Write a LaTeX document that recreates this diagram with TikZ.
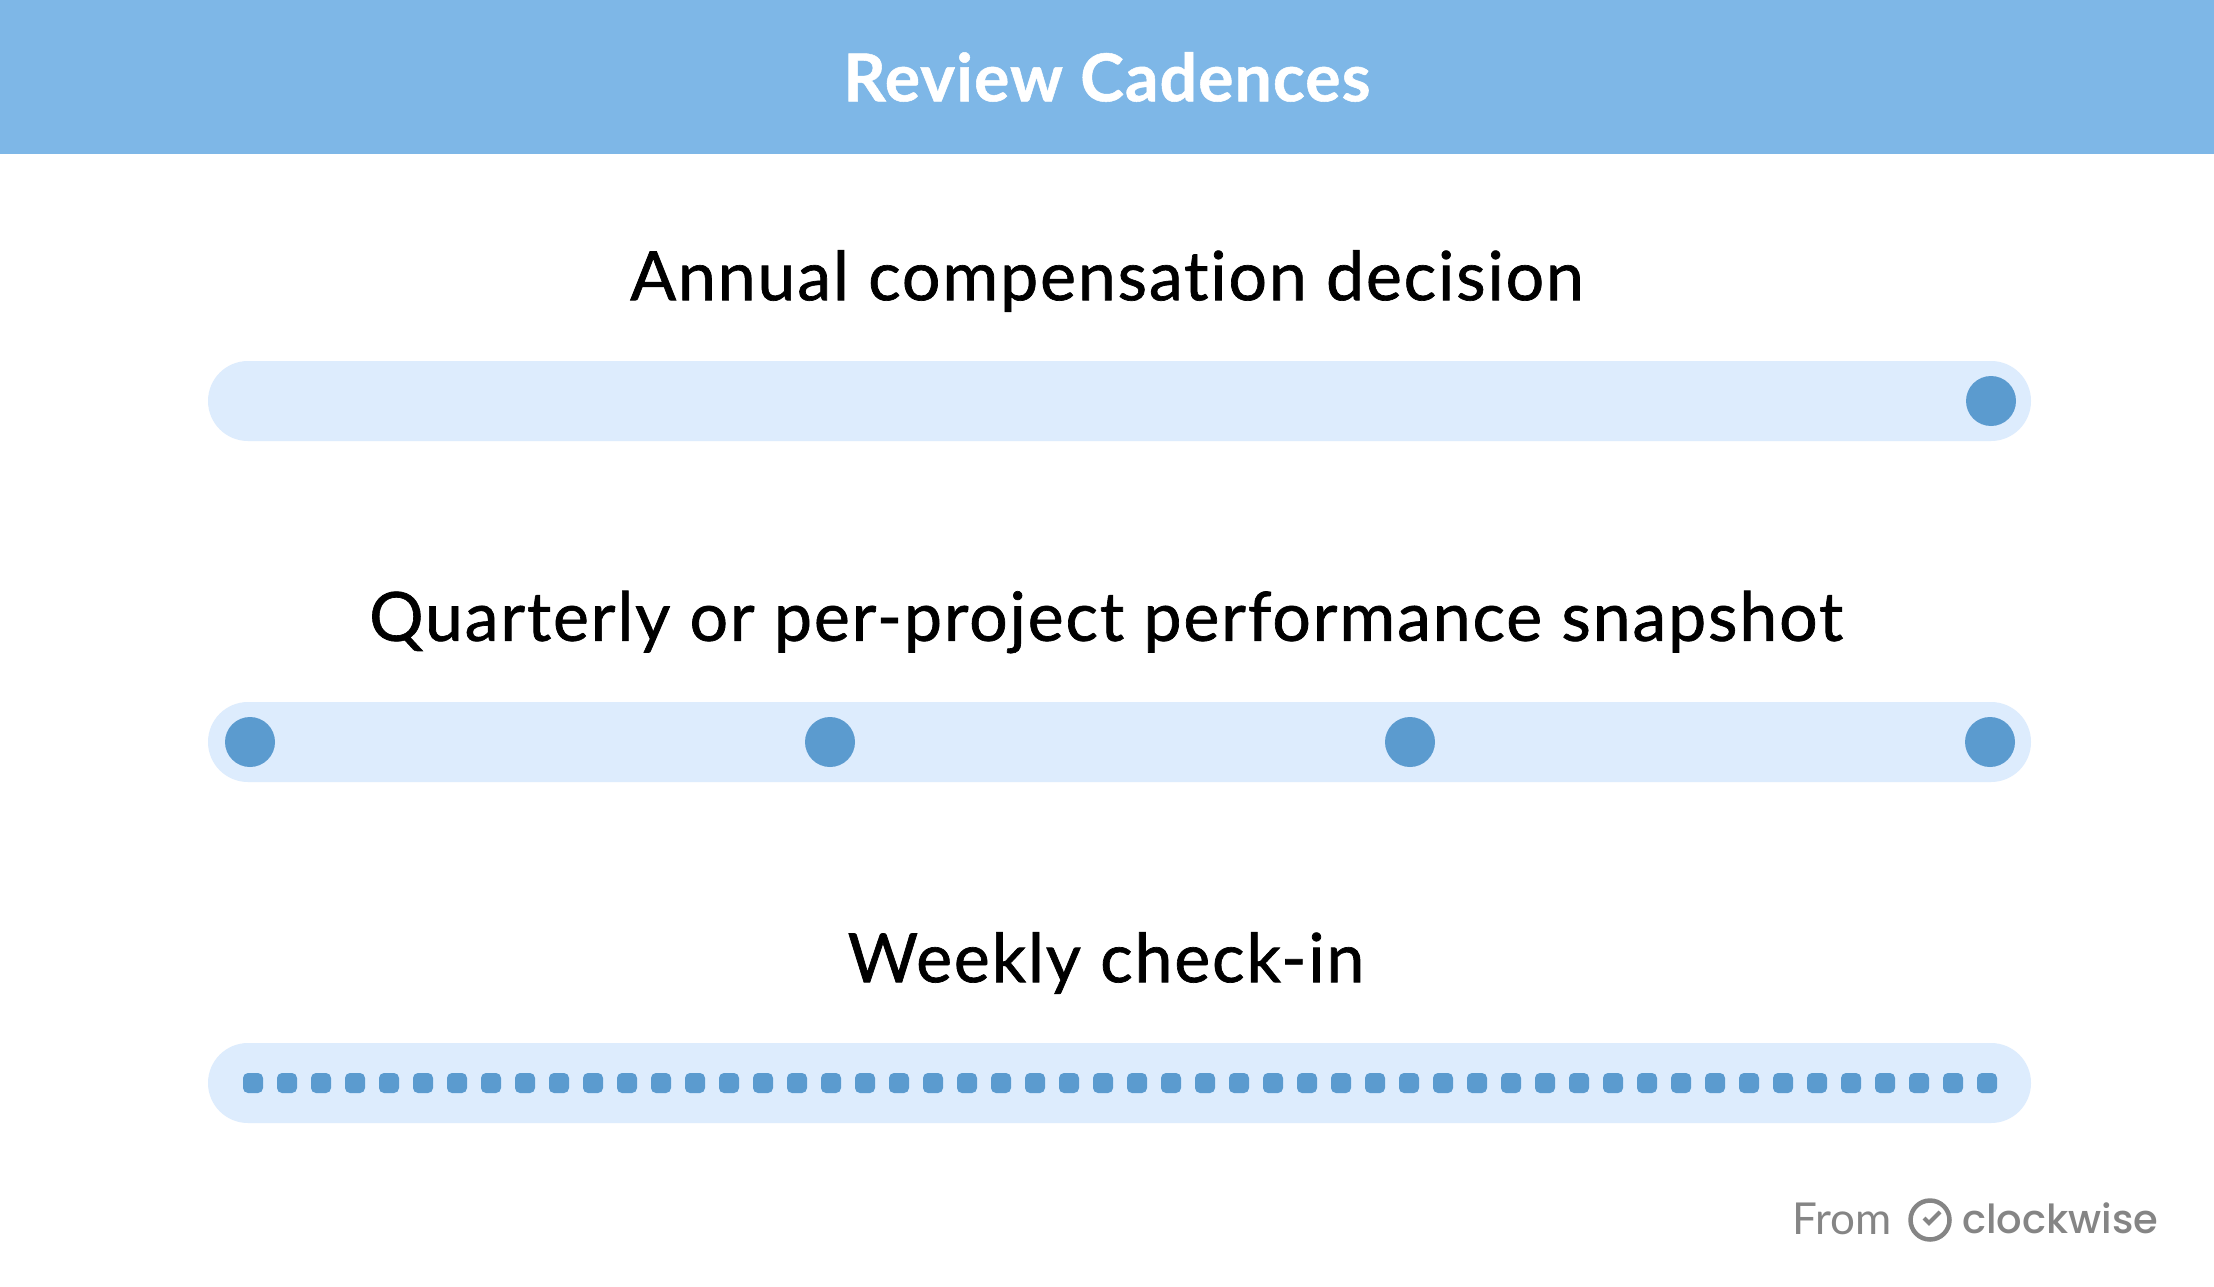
\documentclass[tikz,border=0pt]{standalone}
\usepackage{fontspec}
\setmainfont{Lato}
\newfontfamily\logofont{Poppins Medium}
\newfontfamily\headfont[LetterSpace=2.7,Ligatures=NoCommon,FakeBold=1]{Lato}
\newfontfamily\titlefont[LetterSpace=1.7,Ligatures=NoCommon,FakeBold=0.8]{Lato Bold}
\definecolor{headerblue}{HTML}{7EB7E7}
\definecolor{barblue}{HTML}{DDECFD}
\definecolor{dotblue}{HTML}{5B9BCF}
\definecolor{footgrey}{HTML}{858585}
\tikzset{
  header/.style={fill=headerblue,draw=none},
  track/.style={fill=barblue,draw=none,rounded corners=40pt},
  bigdot/.style={circle,fill=dotblue,draw=none,minimum size=50pt,inner sep=0pt,outer sep=0pt},
  tick/.style={fill=dotblue,draw=none,rounded corners=5pt},
  heading/.style={font=\fontsize{68}{80}\headfont\selectfont,text=black,inner sep=0pt},
  titletext/.style={font=\fontsize{66}{72}\titlefont\selectfont,text=white,inner sep=0pt},
  foot/.style={font=\fontsize{44}{48}\selectfont,text=footgrey,inner sep=0pt,anchor=base west},
  logotext/.style={font=\fontsize{40}{48}\logofont\selectfont,text=footgrey,inner sep=0pt,anchor=base west},
}
\begin{document}
\begin{tikzpicture}[x=1pt,y=-1pt]
\useasboundingbox (0,0) rectangle (2214,1287);
\fill[white] (0,0) rectangle (2214,1287);
\fill[header] (0,0) rectangle (2214,154);
\node[titletext] (title) at (1107,77) {Review Cadences};
\node[heading] (h1) at (1107,281) {Annual compensation decision};
\node[heading] (h2) at (1106,622) {Quarterly or per-project performance snapshot};
\node[heading] (h3) at (1106,963) {Weekly check-in};
\fill[track] (208,361) rectangle (2031,441);
\fill[track] (208,702) rectangle (2031,782);
\fill[track] (208,1043) rectangle (2031,1123);
\node[bigdot] (a1) at (1991,401) {};
\foreach \i/\x in {1/250,2/830,3/1410,4/1990} \node[bigdot] (b\i) at (\x,742) {};
\foreach \i in {0,...,51} \fill[tick] ({243+34*\i},1073) rectangle ++(20,20);
\node[foot] (from) at (1792,1234) {From};
\draw[footgrey,line width=4.5pt] (1930,1220) circle (19.5pt);
\draw[footgrey,line width=4pt] (1924,1218) -- (1929,1223) -- (1940,1212);
\node[logotext] (logo) at (1962,1233) {clockwise};
\end{tikzpicture}
\end{document}
